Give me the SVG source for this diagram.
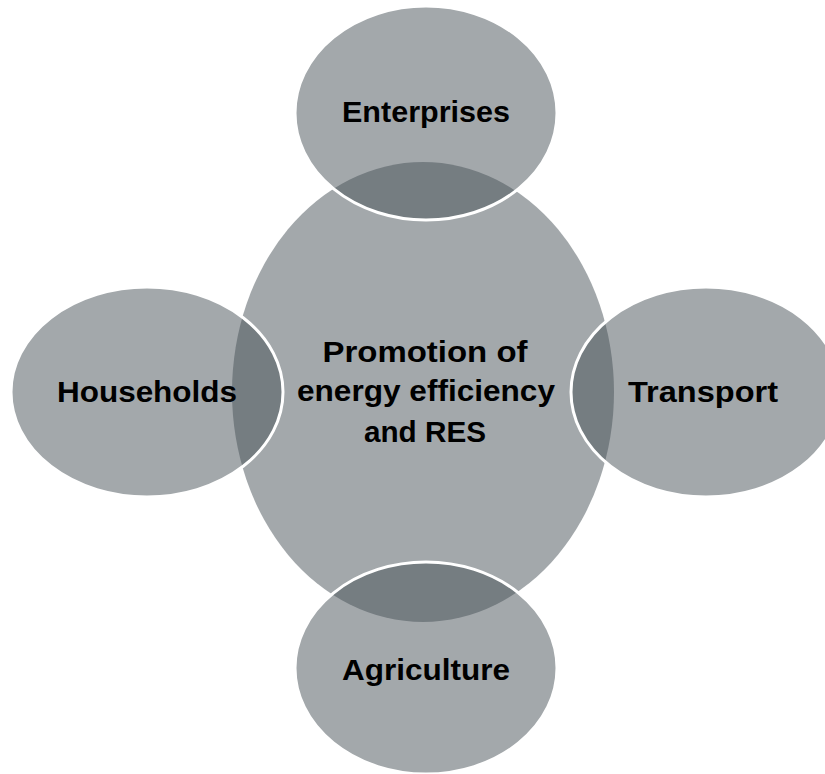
<svg xmlns="http://www.w3.org/2000/svg" width="825" height="774" viewBox="0 0 825 774">
<style>
.shape{fill:rgb(72,82,88);fill-opacity:0.5}
.sat{stroke:#ffffff;stroke-width:3}
.lbl{font-family:"Liberation Sans",Arial,sans-serif;font-weight:bold;font-size:30px;fill:#000;text-anchor:middle}
</style>
<rect width="825" height="774" fill="#ffffff"/>
<g id="center">
<ellipse class="shape" cx="423" cy="392" rx="191" ry="230"/>
</g>
<g id="enterprises">
<ellipse class="shape sat" cx="426" cy="113" rx="131" ry="107"/>
</g>
<g id="households">
<ellipse class="shape sat" cx="147" cy="392" rx="136" ry="105"/>
</g>
<g id="transport">
<ellipse class="shape sat" cx="706" cy="392" rx="135" ry="105"/>
</g>
<g id="agriculture">
<ellipse class="shape sat" cx="426" cy="668" rx="131" ry="106"/>
</g>
<g id="connectors"></g>
<g id="labels">
<text class="lbl" x="426" y="122" textLength="168" lengthAdjust="spacingAndGlyphs">Enterprises</text>
<text class="lbl" x="147" y="402" textLength="180" lengthAdjust="spacingAndGlyphs">Households</text>
<text class="lbl" x="703" y="402" textLength="150" lengthAdjust="spacingAndGlyphs">Transport</text>
<text class="lbl" x="426" y="680" textLength="168" lengthAdjust="spacingAndGlyphs">Agriculture</text>
<text class="lbl" x="425" y="362" textLength="205" lengthAdjust="spacingAndGlyphs">Promotion of</text>
<text class="lbl" x="426" y="401" textLength="258" lengthAdjust="spacingAndGlyphs">energy efficiency</text>
<text class="lbl" x="425" y="442" textLength="122" lengthAdjust="spacingAndGlyphs">and RES</text>
</g>
</svg>
